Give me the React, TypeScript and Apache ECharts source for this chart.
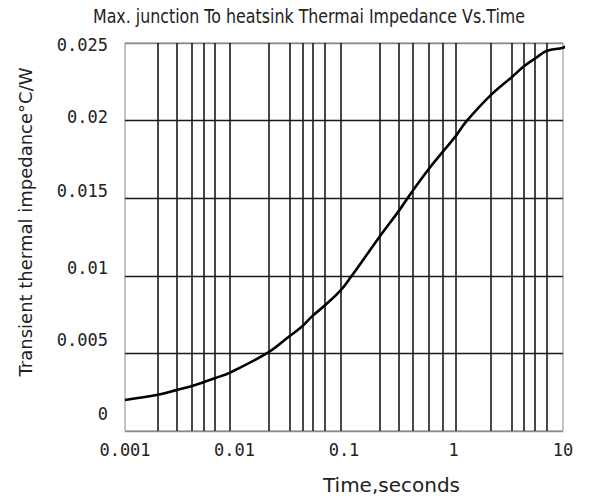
import React, { useEffect, useRef } from "react";
import * as echarts from "echarts";

const titleText = "Max. junction To heatsink Thermai Impedance Vs.Time";
const xAxisName = "Time,seconds";
const yAxisName = "Transient thermal impedance°C/W";

// curve samples (time in seconds, impedance in °C/W)
const timeSeconds = [
  0.001, 0.002, 0.003, 0.0041, 0.0052, 0.0066, 0.0091, 0.0207, 0.0317, 0.0416,
  0.0513, 0.067, 0.094, 0.115, 0.213, 0.318, 0.426, 0.597, 0.8, 1.047, 1.31,
  2.2, 3.4, 4.4, 5.55, 7.15, 10, 11.1,
];
const impedance = [
  0.002, 0.00233, 0.00265, 0.0029, 0.00314, 0.0034, 0.00376, 0.0051, 0.0061,
  0.00675, 0.0074, 0.0081, 0.0091, 0.0099, 0.01255, 0.0142, 0.0155, 0.0169,
  0.018, 0.019, 0.01995, 0.02166, 0.0228, 0.0235, 0.024, 0.0245, 0.0247, 0.0249,
];

// vertical grid lines as drawn in the picture
const xGridValues = [
  0.002, 0.003, 0.0041, 0.0052, 0.0066, 0.0091, 0.0207, 0.0317, 0.0416, 0.0513,
  0.067, 0.094, 0.213, 0.318, 0.426, 0.597, 0.8, 1.047, 2.2, 3.4, 4.4, 5.55,
  7.15,
];

const xMin = 0.001;
const xMax = 10;
const yMin = 0;
const yMax = 0.025;
const yStep = 0.005;

export default function App() {
  const ref = useRef<HTMLDivElement>(null);
  useEffect(() => {
    if (!ref.current) return;
    const chart = echarts.init(ref.current, undefined, { renderer: "svg" });
    const mono = "'DejaVu Sans Mono', 'Liberation Mono', monospace";
    const labelStyle = { fontFamily: mono, fontSize: 17, color: "#222" };
    // the scanned y labels drift above their grid lines
    const yRich: Record<string, any> = {
      o0: { ...labelStyle, padding: [0, 0, 34, 0] },
      o1: { ...labelStyle, padding: [0, 0, 26, 0] },
      o2: { ...labelStyle, padding: [0, 0, 15, 0] },
      o3: { ...labelStyle, padding: [0, 0, 14, 0] },
      o4: { ...labelStyle, padding: [0, 0, 8, 0] },
      o5: { ...labelStyle, padding: [4, 0, 0, 0] },
    };
    chart.setOption({
      animation: false,
      backgroundColor: "#ffffff",
      graphic: [
        {
          type: "text",
          x: 93,
          y: 16,
          scaleX: 0.834,
          silent: true,
          style: {
            text: titleText,
            fontFamily: "'DejaVu Sans', sans-serif",
            fontSize: 19,
            fill: "#222",
            align: "left",
            verticalAlign: "middle",
          },
        },
        {
          type: "text",
          x: 25,
          y: 222,
          rotation: Math.PI / 2,
          silent: true,
          style: {
            text: yAxisName,
            fontFamily: "'DejaVu Sans', sans-serif",
            fontSize: 18,
            fill: "#222",
            align: "center",
            verticalAlign: "middle",
          },
        },
      ],
      grid: {
        left: 125,
        right: 28,
        top: 43,
        bottom: 65,
        show: true,
        borderColor: "#8a8a8a",
        borderWidth: 1,
      },
      xAxis: {
        type: "log",
        logBase: 10,
        min: xMin,
        max: xMax,
        name: xAxisName,
        nameLocation: "middle",
        nameGap: 44,
        nameTextStyle: {
          fontFamily: "'DejaVu Sans', sans-serif",
          fontSize: 20,
          color: "#222",
          padding: [0, 0, 0, 95],
        },
        axisLine: { show: false },
        axisTick: { show: false },
        splitLine: { show: false },
        axisLabel: {
          margin: 10,
          ...labelStyle,
          formatter: (v: number) => String(Number(v.toPrecision(3))),
        },
      },
      yAxis: {
        type: "value",
        min: yMin,
        max: yMax,
        interval: yStep,
        axisLine: { show: false },
        axisTick: { show: false },
        splitLine: {
          show: true,
          lineStyle: {
            color: ["#8a8a8a", "#1a1a1a", "#1a1a1a", "#1a1a1a", "#1a1a1a", "#8a8a8a"],
            width: 1.3,
          },
        },
        axisLabel: {
          margin: 17,
          ...labelStyle,
          formatter: (v: number) => {
            const i = Math.round(v / yStep);
            return `{o${i}|${String(Number(v.toFixed(3)))}}`;
          },
          rich: yRich,
        },
      },
      series: [
        {
          type: "line",
          data: [],
          z: 1,
          silent: true,
          markLine: {
            silent: true,
            precision: 8,
            symbol: ["none", "none"],
            label: { show: false },
            lineStyle: { type: "solid", color: "#1a1a1a", width: 1.6 },
            data: xGridValues.map((v) => ({ xAxis: v })),
          },
        },
        {
          type: "line",
          z: 5,
          clip: false,
          smooth: 0.4,
          symbol: "none",
          lineStyle: { color: "#000", width: 2.6 },
          data: timeSeconds.map((t, i) => [t, impedance[i]]),
        },
      ],
    });
    return () => chart.dispose();
  }, []);
  return (
    <div
      ref={ref}
      style={{ position: "fixed", left: 0, top: 0, width: 591, height: 500, background: "#fff" }}
    />
  );
}
